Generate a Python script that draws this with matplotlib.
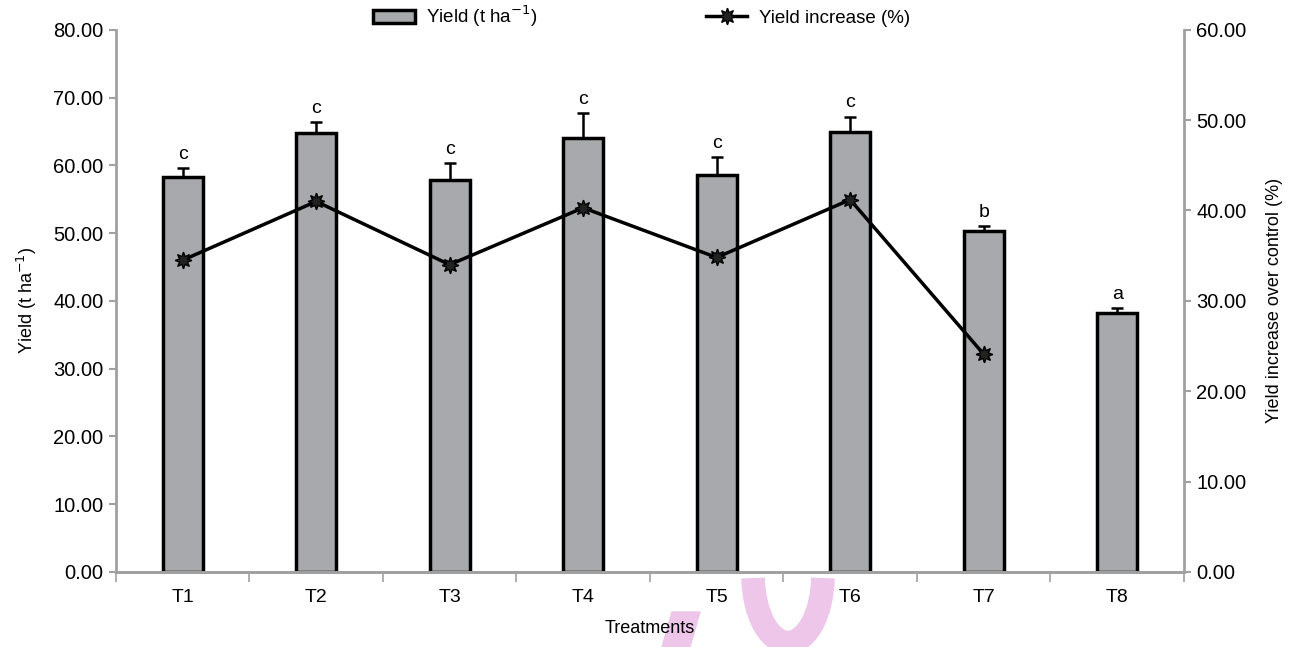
import numpy as np
import matplotlib
matplotlib.use("Agg")
import matplotlib.pyplot as plt
from matplotlib.patches import Arc, Polygon
from matplotlib.lines import Line2D
from matplotlib.patches import Patch

plt.rcParams['font.family'] = ['Liberation Sans', 'DejaVu Sans']

# data
treatments = ['T1', 'T2', 'T3', 'T4', 'T5', 'T6', 'T7', 'T8']
yield_t = [58.3, 64.7, 57.9, 64.0, 58.6, 64.9, 50.3, 38.2]
yield_err = [1.3, 1.7, 2.4, 3.7, 2.6, 2.3, 0.7, 0.7]
letters = ['c', 'c', 'c', 'c', 'c', 'c', 'b', 'a']
increase = [34.5, 41.0, 34.0, 40.3, 34.8, 41.2, 24.1]

spine_col = '#a0a0a0'
bar_col = '#a7a9ac'

fig = plt.figure(figsize=(13.04, 6.47), dpi=100)
ax1 = fig.add_axes([0.0889, 0.116, 0.8190, 0.838])
ax1.set_facecolor('none')
ax2 = ax1.twinx()

x = np.arange(len(treatments))
ax1.bar(x, yield_t, width=0.3, color=bar_col, edgecolor='black', linewidth=2.5, zorder=2)
ax1.errorbar(x, yield_t, yerr=[np.zeros(len(x)), yield_err], fmt='none',
             ecolor='black', elinewidth=1.8, capsize=4, capthick=1.8, zorder=3)
for xi, v, e, l in zip(x, yield_t, yield_err, letters):
    ax1.text(xi, v + e + 0.8, l, ha='center', va='bottom', fontsize=14)

ax2.plot(x[:len(increase)], increase, color='black', linewidth=2.5,
         marker=(8, 1, 0), markersize=12, markerfacecolor='#222222', zorder=4)

ax1.set_xlim(-0.5, 7.5)
ax1.set_ylim(0, 80)
ax2.set_ylim(0, 60)
ax1.set_yticks(np.arange(0, 81, 10))
ax2.set_yticks(np.arange(0, 61, 10))
ax1.set_yticklabels(['%.2f' % v for v in np.arange(0, 81, 10)])
ax2.set_yticklabels(['%.2f' % v for v in np.arange(0, 61, 10)])

ax1.set_xticks(x)
ax1.set_xticklabels(treatments, fontsize=14)
ax1.set_xticks(np.arange(-0.5, 8, 1), minor=True)
ax1.tick_params(axis='x', which='major', length=0, pad=12)
ax1.tick_params(axis='x', which='minor', length=7, color=spine_col, width=1.2)
ax1.tick_params(axis='y', length=5, color=spine_col, width=1.5, labelsize=14.5, pad=4)
ax2.tick_params(axis='y', length=5, color=spine_col, width=1.5, labelsize=14.5, pad=4)

for a in (ax1, ax2):
    a.spines['top'].set_visible(False)
    for s in ('left', 'right', 'bottom'):
        a.spines[s].set_color(spine_col)
        a.spines[s].set_linewidth(2)
ax1.spines['right'].set_visible(False)
ax2.spines['left'].set_visible(False)

ax1.set_xlabel('Treatments', fontsize=13, labelpad=10)
ax1.set_ylabel('Yield (t ha$^{-1}$)', fontsize=13, labelpad=10)
ax2.set_ylabel('Yield increase over control (%)', fontsize=13, labelpad=14)

handles = [Patch(facecolor=bar_col, edgecolor='black', linewidth=2.5),
           Line2D([], [], color='black', linewidth=2.5, marker=(8, 1, 0), markersize=12,
                  markerfacecolor='#222222')]
fig.legend(handles, ['Yield (t ha$^{-1}$)', 'Yield increase (%)'], loc='center',
           bbox_to_anchor=(0.492, 0.975), ncol=2, frameon=False, fontsize=13.5,
           columnspacing=9, handlelength=2.2, handletextpad=0.6)

# pink watermark remnants at the bottom (display pixels, origin bottom-left)
arc = Arc((788, 72), 70, 135, theta1=185, theta2=355, transform=None,
          color='#eec6ea', linewidth=17, zorder=-5)
fig.patches.append(arc)
fig.patches.append(Polygon([[672, 35], [700, 35], [690, 0], [662, 0]],
                           closed=True, transform=None, color='#eec6ea', zorder=-5))

fig.savefig('out.png', dpi=100)
